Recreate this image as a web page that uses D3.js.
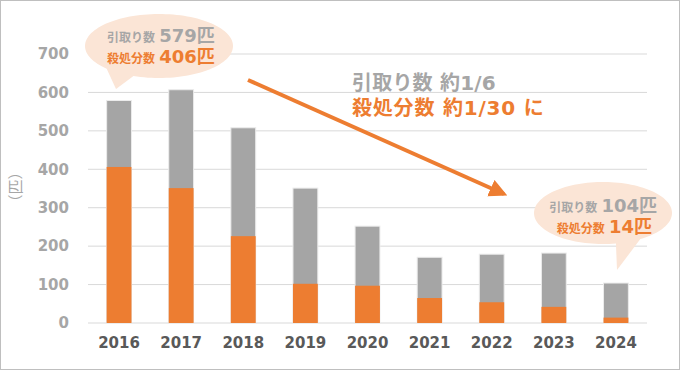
<!DOCTYPE html>
<html>
<head>
<meta charset="utf-8">
<script src="https://cdn.jsdelivr.net/npm/d3@7"></script>
<style>
  body { margin: 0; background: #fff; }
  svg { display: block; }
</style>
</head>
<body>
<div id="chart"></div>
<script>
// Declare constants
const FRAME_WIDTH = 680;
const FRAME_HEIGHT = 370;
const MARGINS = {left: 88, right: 33, top: 54, bottom: 47};

const VIS_WIDTH = FRAME_WIDTH - MARGINS.left - MARGINS.right;
const VIS_HEIGHT = FRAME_HEIGHT - MARGINS.top - MARGINS.bottom;

const FONT = "'DejaVu Sans', 'Noto Sans CJK JP', sans-serif";
const GRAY = "#a5a5a5";
const ORANGE = "#ed7d31";

// Data
const years = ["2016", "2017", "2018", "2019", "2020", "2021", "2022", "2023", "2024"];
const intake = [579, 607, 508, 351, 252, 171, 179, 182, 104];   // 引取り数
const killed = [406, 351, 226, 102, 97, 65, 54, 42, 14];        // 殺処分数
const yTicks = [0, 100, 200, 300, 400, 500, 600, 700];

const svg = d3.select("#chart")
  .append("svg")
    .attr("width", FRAME_WIDTH)
    .attr("height", FRAME_HEIGHT);

// outer frame
svg.append("rect")
  .attr("x", 0.5).attr("y", 0.5)
  .attr("width", FRAME_WIDTH - 1).attr("height", FRAME_HEIGHT - 1)
  .attr("fill", "#fff").attr("stroke", "#bfbfbf");

const g = svg.append("g")
  .attr("transform", `translate(${MARGINS.left},${MARGINS.top})`);

const x = d3.scaleBand().domain(years).range([0, VIS_WIDTH]).paddingInner(0.6).paddingOuter(0.3);
const y = d3.scaleLinear().domain([0, 700]).range([VIS_HEIGHT, 0]);

// grid lines
g.selectAll(".grid")
  .data(yTicks)
  .enter().append("line")
    .attr("x1", 0).attr("x2", VIS_WIDTH)
    .attr("y1", d => y(d)).attr("y2", d => y(d))
    .attr("stroke", "#d9d9d9").attr("stroke-width", 1);

// y axis labels
g.append("g")
  .call(d3.axisLeft(y).tickValues(yTicks).tickSize(0).tickPadding(19))
  .call(a => a.select(".domain").remove())
  .selectAll("text")
    .attr("font-family", FONT).attr("font-size", 15).attr("font-weight", "bold")
    .attr("fill", "#a6a6a6");

// x axis labels
g.append("g")
  .attr("transform", `translate(0,${VIS_HEIGHT})`)
  .call(d3.axisBottom(x).tickSize(0).tickPadding(14))
  .call(a => a.select(".domain").remove())
  .selectAll("text")
    .attr("font-family", FONT).attr("font-size", 15).attr("font-weight", "bold")
    .attr("fill", "#595959");

// bars: total intake (gray) with killed (orange) at the bottom
const bars = g.selectAll(".bar")
  .data(years)
  .enter().append("g");

bars.append("rect")
  .attr("x", d => x(d))
  .attr("y", (d, i) => y(intake[i]))
  .attr("width", x.bandwidth())
  .attr("height", (d, i) => VIS_HEIGHT - y(intake[i]))
  .attr("fill", GRAY)
  .attr("stroke", "#ebebeb").attr("stroke-width", 1);

bars.append("rect")
  .attr("x", d => x(d))
  .attr("y", (d, i) => y(killed[i]))
  .attr("width", x.bandwidth())
  .attr("height", (d, i) => VIS_HEIGHT - y(killed[i]))
  .attr("fill", ORANGE);

// y axis title
svg.append("text")
  .attr("transform", "translate(14,187) rotate(-90)")
  .attr("text-anchor", "middle")
  .attr("dominant-baseline", "central")
  .attr("font-family", "'Noto Sans CJK JP', sans-serif").attr("font-size", 15)
  .attr("fill", "#a6a6a6")
  .text("（匹）");

// speech bubble: ellipse with a pointed tail
function bubble(cx, cy, rx, ry, tail) {
  const pts = [];
  for (let t = tail.a2; t <= tail.a1 + 2 * Math.PI; t += 0.05) {
    pts.push([cx + rx * Math.cos(t), cy + ry * Math.sin(t)]);
  }
  return d3.line()(pts) + `L${tail.x},${tail.y}Z`;
}

// bubble 1 (2016)
svg.append("path")
  .attr("d", bubble(159, 46, 74, 32, {a1: Math.PI * 0.62, a2: Math.PI * 0.75, x: 116, y: 89}))
  .attr("fill", "#fbe5d6");

// bubble 2 (2024)
svg.append("path")
  .attr("d", bubble(603, 213, 69, 31, {a1: Math.PI * 0.33, a2: Math.PI * 0.44, x: 617, y: 270}))
  .attr("fill", "#fbe5d6");

function label(px, py, parts, anchor, spacing) {
  const t = svg.append("text")
    .attr("x", px).attr("y", py)
    .attr("text-anchor", anchor || "start")
    .attr("letter-spacing", spacing || 0)
    .attr("font-family", FONT).attr("font-weight", "bold");
  parts.forEach(p => {
    t.append("tspan").attr("font-size", p.size).attr("fill", p.color).text(p.text);
  });
}

label(107, 42, [{text: "引取り数 ", size: 12, color: "#a6a6a6"}, {text: intake[0] + "匹", size: 18, color: "#a6a6a6"}]);
label(107, 63, [{text: "殺処分数 ", size: 12, color: ORANGE}, {text: killed[0] + "匹", size: 18, color: ORANGE}]);

label(657, 212, [{text: "引取り数 ", size: 12, color: "#a6a6a6"}, {text: intake[8] + "匹", size: 18, color: "#a6a6a6"}], "end");
label(652, 233, [{text: "殺処分数 ", size: 12, color: ORANGE}, {text: killed[8] + "匹", size: 18, color: ORANGE}], "end");

// middle annotation
label(352, 90, [{text: "引取り数 約1/6", size: 20, color: "#a6a6a6"}], "start", 0.2);
label(352, 115, [{text: "殺処分数 約1/30 に", size: 20, color: ORANGE}], "start", 0.8);

// arrow
svg.append("defs").append("marker")
  .attr("id", "head")
  .attr("viewBox", "0 0 10 10")
  .attr("refX", 8).attr("refY", 5)
  .attr("markerWidth", 4.5).attr("markerHeight", 4.5)
  .attr("orient", "auto")
  .append("path").attr("d", "M0,0L10,5L0,10Z").attr("fill", ORANGE);

svg.append("line")
  .attr("x1", 248).attr("y1", 80)
  .attr("x2", 504).attr("y2", 194)
  .attr("stroke", ORANGE).attr("stroke-width", 4)
  .attr("marker-end", "url(#head)");
</script>
</body>
</html>
